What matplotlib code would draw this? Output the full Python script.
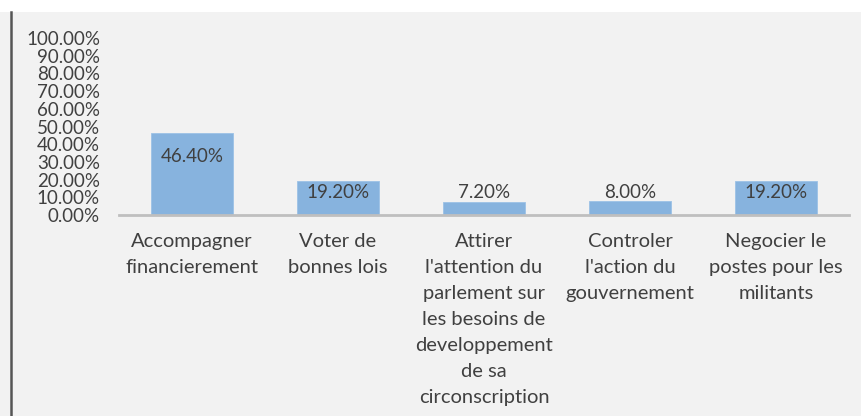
import numpy as np
import matplotlib
matplotlib.use("Agg")
import matplotlib.pyplot as plt
from matplotlib.patches import Rectangle
from matplotlib.lines import Line2D
import matplotlib.transforms as mtransforms

categories = ["Accompagner\nfinancierement",
              "Voter de\nbonnes lois",
              "Attirer\nl'attention du\nparlement sur\nles besoins de\ndeveloppement\nde sa\ncirconscription",
              "Controler\nl'action du\ngouvernement",
              "Negocier le\npostes pour les\nmilitants"]
values = [0.464, 0.192, 0.072, 0.080, 0.192]
value_labels = ["46.40%", "19.20%", "7.20%", "8.00%", "19.20%"]
yticks = [0.0, 0.1, 0.2, 0.3, 0.4, 0.5, 0.6, 0.7, 0.8, 0.9, 1.0]

plt.rcParams['font.family'] = ['Lato', 'DejaVu Sans']

W, H = 861, 416
fig = plt.figure(figsize=(W / 100, H / 100), dpi=100)
fig.patch.set_facecolor("white")

# grey panel and left border (behind the axes)
fig.patches.append(Rectangle((0, 0), 1, (H - 12) / H, transform=fig.transFigure,
                             facecolor="#f2f2f2", edgecolor="none", zorder=-2))
fig.lines.append(Line2D([10.5 / W, 10.5 / W], [0, (H - 12) / H], transform=fig.transFigure,
                        color="#555555", linewidth=1.8, zorder=-1))

ax = fig.add_axes([119 / W, (H - 215) / H, 730 / W, 177 / H])
ax.set_facecolor("none")
x = np.arange(len(values))
ax.bar(x, values, width=0.555, color="#87b3de", edgecolor="#9cc2e6", linewidth=0.6, zorder=2)
ax.set_xlim(-0.5, len(values) - 0.5)
ax.set_ylim(0, 1)

for s in ["top", "right", "left"]:
    ax.spines[s].set_visible(False)
ax.spines["bottom"].set_color("#bfbfbf")
ax.spines["bottom"].set_linewidth(2)
ax.spines["bottom"].set_zorder(3)

ax.set_yticks(yticks)
ax.set_yticklabels(["%.2f%%" % (t * 100) for t in yticks])
ax.tick_params(axis="y", length=0, pad=13.7, labelsize=13.5, labelcolor="#404040")
ax.set_xticks([])

for xi, v, lab in zip(x, values, value_labels):
    ax.text(xi, max(v - 0.135, 0.125), lab, ha="center", va="center",
            fontsize=13.5, color="#404040", zorder=4)

trans = mtransforms.blended_transform_factory(ax.transData, fig.transFigure)
for xi, cat in zip(x, categories):
    ax.text(xi, (H - 233) / H, cat, transform=trans, ha="center", va="top",
            fontsize=14.5, color="#404040", linespacing=1.64)

fig.savefig("out.png", dpi=100, facecolor=fig.get_facecolor())
